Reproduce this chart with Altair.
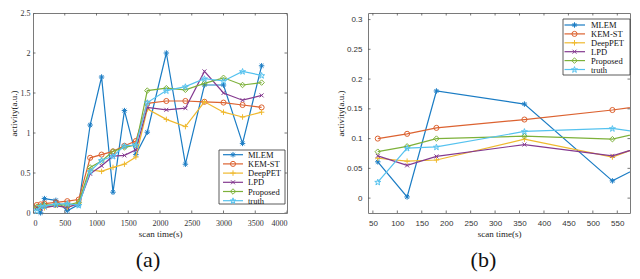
import altair as alt
import pandas as pd
import numpy as np

# ---------------- data ----------------
times = [60, 120, 180, 360, 540, 720, 900, 1080, 1260, 1440, 1620, 1800,
         2100, 2400, 2700, 3000, 3300, 3600]
mlem = [0.061, 0.002, 0.180, 0.158, 0.029, 0.105, 1.10, 1.70, 0.26, 1.28, 0.73, 1.01,
        2.00, 0.61, 1.60, 1.60, 0.87, 1.84]
kem_st = [0.100, 0.108, 0.118, 0.132, 0.148, 0.168, 0.69, 0.73, 0.77, 0.84, 0.90, 1.37,
          1.40, 1.40, 1.39, 1.38, 1.35, 1.32]
deeppet = [0.067, 0.062, 0.064, 0.099, 0.069, 0.124, 0.54, 0.52, 0.57, 0.61, 0.70, 1.30,
           1.17, 1.08, 1.39, 1.26, 1.20, 1.26]
lpd = [0.071, 0.055, 0.070, 0.090, 0.071, 0.116, 0.49, 0.59, 0.71, 0.72, 0.79, 1.32,
       1.29, 1.31, 1.77, 1.50, 1.41, 1.47]
proposed = [0.078, 0.087, 0.100, 0.104, 0.099, 0.134, 0.57, 0.65, 0.77, 0.82, 0.85, 1.53,
            1.56, 1.54, 1.62, 1.69, 1.60, 1.63]
truth = [0.027, 0.084, 0.086, 0.112, 0.117, 0.097, 0.52, 0.66, 0.71, 0.84, 0.85, 1.38,
         1.53, 1.58, 1.68, 1.65, 1.77, 1.72]

series_names = ["MLEM", "KEM-ST", "DeepPET", "LPD", "Proposed", "truth"]
series_values = [mlem, kem_st, deeppet, lpd, proposed, truth]
series_colors = ["#1a7cc4", "#dc6230", "#efb92e", "#84398f", "#7db13a", "#55c2ef"]

left_xticks = [0, 500, 1000, 1500, 2000, 2500, 3000, 3500, 4000]
left_yticks = [0, 0.5, 1, 1.5, 2, 2.5]
right_xticks = [50, 100, 150, 200, 250, 300, 350, 400, 450, 500, 550]
right_yticks = [0, 0.05, 0.1, 0.15, 0.2, 0.25, 0.3]

# ---------------- marker shapes ----------------
ang = np.arange(10) * np.pi / 5 - np.pi / 2
rad = np.where(np.arange(10) % 2 == 0, 1.0, 0.4)
star_path = "M" + "L".join(f"{r*np.cos(a):.3f},{r*np.sin(a)+0.1:.3f}" for r, a in zip(rad, ang)) + "Z"
shapes = {
    "MLEM": ("M-1,0L1,0M0,-1L0,1M-0.7,-0.7L0.7,0.7M-0.7,0.7L0.7,-0.7", 30),
    "KEM-ST": ("circle", 26),
    "DeepPET": ("M-1,0L1,0M0,-1L0,1", 30),
    "LPD": ("M-0.75,-0.75L0.75,0.75M-0.75,0.75L0.75,-0.75", 28),
    "Proposed": ("diamond", 30),
    "truth": (star_path, 40),
}

df = pd.DataFrame({
    "time": times * len(series_names),
    "value": sum(series_values, []),
    "series": sum([[n] * len(times) for n in series_names], []),
})

SERIF = "Liberation Serif"
SANS = "Liberation Sans"
one = pd.DataFrame({"a": [0]})
TICK = "#555555"


def panel(W, H, xdom, ydom, xticks, yticks, labelfont, legbox, legrow, legx, caption, clip):
    xs = alt.Scale(domain=xdom, nice=False, zero=False)
    ys = alt.Scale(domain=ydom, nice=False, zero=False)
    xa = alt.Axis(values=xticks, format="d", title="scan time(s)", ticks=False, domain=False,
                  grid=False, labelFont=labelfont, labelFontSize=8, labelColor="#333333",
                  titleFont=SERIF, titleFontSize=9, titleFontWeight="normal", titleColor="#222222",
                  labelPadding=6, titlePadding=2)
    ya = alt.Axis(values=yticks, format="~g", title="activity(a.u.)", ticks=False, domain=False,
                  grid=False, labelFont=labelfont, labelFontSize=8, labelColor="#333333",
                  titleFont=SERIF, titleFontSize=9, titleFontWeight="normal", titleColor="#222222",
                  labelPadding=legx["lp"], titlePadding=legx["tp"])
    X = lambda f: alt.X(f, scale=xs, axis=xa, title="scan time(s)")
    Y = lambda f: alt.Y(f, scale=ys, axis=ya, title="activity(a.u.)")
    layers = []
    for i, (name, vals, col) in enumerate(zip(series_names, series_values, series_colors)):
        sub = df[df.series == name]
        layers.append(alt.Chart(sub).mark_line(color=col, strokeWidth=1.2, clip=clip)
                      .encode(x=X("time:Q"), y=Y("value:Q")))
        shp, sz = shapes[name]
        layers.append(alt.Chart(sub).mark_point(color=col, shape=shp, size=sz, strokeWidth=1,
                                                filled=False, opacity=1, clip=clip)
                      .encode(x=X("time:Q"), y=Y("value:Q")))
    # inward ticks
    xt = pd.DataFrame({"t": xticks})
    yt = pd.DataFrame({"t": yticks})
    for (y0, y1) in [(H, H - 2.5), (0, 2.5)]:
        layers.append(alt.Chart(xt).mark_rule(color=TICK, strokeWidth=0.8, clip=True)
                      .encode(x=X("t:Q"), y=alt.value(y0), y2=alt.value(y1)))
    for (x0, x1) in [(0, 2.5), (W, W - 2.5)]:
        layers.append(alt.Chart(yt).mark_rule(color=TICK, strokeWidth=0.8, clip=True)
                      .encode(y=Y("t:Q"), x=alt.value(x0), x2=alt.value(x1)))
    # legend
    bx0, by0, bw, bh = legbox
    layers.append(alt.Chart(one).mark_rect(fill="white", stroke="#333333", strokeWidth=0.8)
                  .encode(x=alt.value(bx0), x2=alt.value(bx0 + bw), y=alt.value(by0), y2=alt.value(by0 + bh)))
    r0, dr = legrow
    for i, (name, col) in enumerate(zip(series_names, series_colors)):
        yy = by0 + r0 + dr * i
        layers.append(alt.Chart(one).mark_rule(color=col, strokeWidth=1.2)
                      .encode(x=alt.value(bx0 + legx["l0"]), x2=alt.value(bx0 + legx["l1"]), y=alt.value(yy)))
        shp, sz = shapes[name]
        layers.append(alt.Chart(one).mark_point(color=col, shape=shp, size=sz, strokeWidth=1, filled=False,
                                                opacity=1)
                      .encode(x=alt.value(bx0 + legx["m"]), y=alt.value(yy)))
        layers.append(alt.Chart(one).mark_text(text=name, align="left", baseline="middle", font=SERIF,
                                               fontSize=8.5, color="#111111")
                      .encode(x=alt.value(bx0 + legx["t"]), y=alt.value(yy)))
    return alt.layer(*layers).properties(
        width=W, height=H,
        title=alt.TitleParams(caption, orient="bottom", anchor="middle", frame="bounds",
                              fontSize=22, font=SERIF, fontWeight="normal", color="#111111", offset=12),
    )


H = 200
WL, WR = 254, 262
left = panel(WL, H, [0, 4000], [0, 2.5], left_xticks, left_yticks, SERIF,
             (WL - 68, H - 63, 66, 54), (4.7, 9.2),
             {"l0": 4, "l1": 24, "m": 14, "t": 29, "lp": 3, "tp": 2}, "(a)", False)
right = panel(WR, H, [40, 576], [-0.025, 0.311], right_xticks, right_yticks, SANS,
              (WR - 67, 6, 67, 56), (6, 8.9),
              {"l0": 1.5, "l1": 22, "m": 11.5, "t": 28, "lp": 6, "tp": 1}, "(b)", True)

chart = alt.hconcat(left, right, spacing=47).properties(padding=0).configure_view(
    stroke="#7a7a7a", strokeWidth=1
)

chart.save("out.html", embed_options={"renderer": "svg", "actions": False})
